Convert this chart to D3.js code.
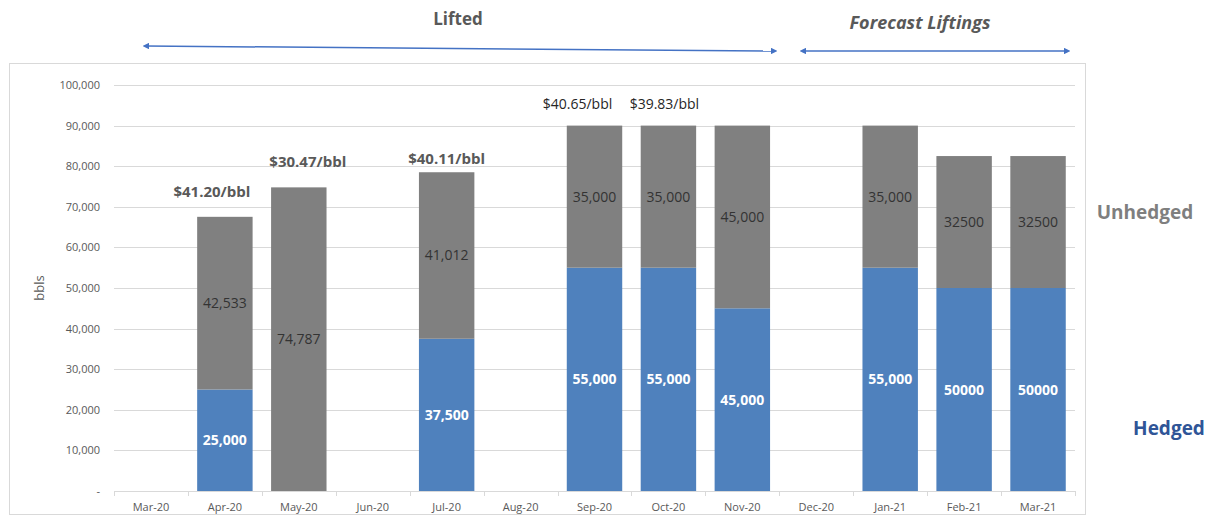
<!DOCTYPE html>
<html>
<head>
<meta charset="utf-8">
<script src="https://cdn.jsdelivr.net/npm/d3@7"></script>
<style>
	body{margin:0;background:#fff;}
	text{font-family:"Open Sans", "Noto Sans", sans-serif;}
</style>
</head>
<body>
<div id="chart"></div>
<script>

// data
const months = ["Mar-20","Apr-20","May-20","Jun-20","Jul-20","Aug-20","Sep-20","Oct-20","Nov-20","Dec-20","Jan-21","Feb-21","Mar-21"];
const hedged = [0, 25000, 0, 0, 37500, 0, 55000, 55000, 45000, 0, 55000, 50000, 50000];
const unhedged = [0, 42533, 74787, 0, 41012, 0, 35000, 35000, 45000, 0, 35000, 32500, 32500];
const hedgedLabels = ["", "25,000", "", "", "37,500", "", "55,000", "55,000", "45,000", "", "55,000", "50000", "50000"];
const unhedgedLabels = ["", "42,533", "74,787", "", "41,012", "", "35,000", "35,000", "45,000", "", "35,000", "32500", "32500"];
const priceMonths = ["Apr-20","May-20","Jul-20","Sep-20","Oct-20"];
const priceLabels = ["$41.20/bbl","$30.47/bbl","$40.11/bbl","$40.65/bbl","$39.83/bbl"];
const yTicks = [0,10000,20000,30000,40000,50000,60000,70000,80000,90000,100000];


function chart(){

	//sizing
	const width = 1215, height = 517;
	let margin = {top:85, right:140, bottom:26, left:114};

	let svg = d3.select("#chart")
		.append("svg")
		.attr("width", width)
		.attr("height", height);

	//chart frame
	svg.append("rect")
		.attr("x", 9.5).attr("y", 63.5)
		.attr("width", 1076).attr("height", 451)
		.attr("fill", "none")
		.attr("stroke", "#d9d9d9");

	let x = d3.scaleBand()
		.domain(months)
		.range([margin.left, width - margin.right])
		.paddingInner(0.25)
		.paddingOuter(0.125);

	let y = d3.scaleLinear()
		.domain([0, 100000])
		.range([height - margin.bottom, margin.top]);

	let fmt = d3.format(",");

	//gridlines
	svg.append("g")
		.selectAll("line")
		.data(yTicks)
		.enter().append("line")
		.attr("x1", margin.left)
		.attr("x2", width - margin.right)
		.attr("y1", d => Math.round(y(d)) + 0.5)
		.attr("y2", d => Math.round(y(d)) + 0.5)
		.attr("stroke", "#d9d9d9");

	//y tick labels
	svg.append("g")
		.selectAll("text")
		.data(yTicks)
		.enter().append("text")
		.attr("x", 100)
		.attr("y", d => y(d) + 4)
		.attr("text-anchor", "end")
		.attr("font-size", 11)
		.attr("fill", "#595959")
		.text(d => d === 0 ? "-" : fmt(d));

	svg.append("text")
		.attr("transform", "translate(44," + y(50000) + ") rotate(-90)")
		.attr("text-anchor", "middle")
		.attr("font-size", 13)
		.attr("fill", "#595959")
		.text("bbls");

	//x ticks between categories
	let x0 = margin.left;
	let cat = (width - margin.right - margin.left) / months.length;
	svg.append("g")
		.selectAll("line")
		.data(d3.range(months.length + 1))
		.enter().append("line")
		.attr("x1", i => Math.round(x0 + i * cat) + 0.5)
		.attr("x2", i => Math.round(x0 + i * cat) + 0.5)
		.attr("y1", y(0))
		.attr("y2", y(0) + 5)
		.attr("stroke", "#d9d9d9");

	svg.append("g")
		.selectAll("text")
		.data(months)
		.enter().append("text")
		.attr("x", d => x(d) + x.bandwidth()/2)
		.attr("y", height - 6)
		.attr("text-anchor", "middle")
		.attr("font-size", 11)
		.attr("fill", "#595959")
		.text(d => d);

	//stacked bars
	let rows = months.map((m, i) => ({month: m, hedged: hedged[i], unhedged: unhedged[i], hl: hedgedLabels[i], ul: unhedgedLabels[i]}));

	let bars = svg.append("g");

	bars.selectAll(".hedged")
		.data(rows.filter(d => d.hedged > 0))
		.enter().append("rect")
		.attr("class", "hedged")
		.attr("x", d => x(d.month))
		.attr("width", x.bandwidth())
		.attr("y", d => y(d.hedged))
		.attr("height", d => y(0) - y(d.hedged))
		.attr("fill", "#4f81bd");

	bars.selectAll(".unhedged")
		.data(rows.filter(d => d.unhedged > 0))
		.enter().append("rect")
		.attr("class", "unhedged")
		.attr("x", d => x(d.month))
		.attr("width", x.bandwidth())
		.attr("y", d => y(d.hedged + d.unhedged))
		.attr("height", d => y(d.hedged) - y(d.hedged + d.unhedged))
		.attr("fill", "#808080");

	//value labels
	bars.selectAll(".hlab")
		.data(rows.filter(d => d.hedged > 0))
		.enter().append("text")
		.attr("x", d => x(d.month) + x.bandwidth()/2)
		.attr("y", d => y(d.hedged/2) + 5)
		.attr("text-anchor", "middle")
		.attr("font-size", 14)
		.attr("font-weight", "bold")
		.attr("fill", "#ffffff")
		.text(d => d.hl);

	bars.selectAll(".ulab")
		.data(rows.filter(d => d.unhedged > 0))
		.enter().append("text")
		.attr("x", d => x(d.month) + x.bandwidth()/2)
		.attr("y", d => y(d.hedged + d.unhedged/2) + 5)
		.attr("text-anchor", "middle")
		.attr("font-size", 14)
		.attr("fill", "#333333")
		.text(d => d.ul);

	//price labels above bars
	let priceStyle = {
		"Apr-20": {dx:-13, dy:-20, bold:true},
		"May-20": {dx:9, dy:-20, bold:true},
		"Jul-20": {dx:0, dy:-8, bold:true},
		"Sep-20": {dx:-17, dy:-17, bold:false},
		"Oct-20": {dx:-4, dy:-17, bold:false}
	};
	priceMonths.forEach((m, i) => {
		let k = months.indexOf(m);
		let s = priceStyle[m];
		svg.append("text")
			.attr("x", x(m) + x.bandwidth()/2 + s.dx)
			.attr("y", y(hedged[k] + unhedged[k]) + s.dy)
			.attr("text-anchor", "middle")
			.attr("font-size", s.bold ? 15 : 14)
			.attr("font-weight", s.bold ? "bold" : "normal")
			.attr("fill", s.bold ? "#595959" : "#262626")
			.text(priceLabels[i]);
	});

	//series labels on the right
	svg.append("text")
		.attr("x", 1145).attr("y", 219)
		.attr("text-anchor", "middle")
		.attr("font-size", 19)
		.attr("font-weight", "bold")
		.attr("fill", "#7f7f7f")
		.text("Unhedged");

	svg.append("text")
		.attr("x", 1169).attr("y", 435)
		.attr("text-anchor", "middle")
		.attr("font-size", 19)
		.attr("font-weight", "bold")
		.attr("fill", "#2f5597")
		.text("Hedged");

	//header arrows
	let defs = svg.append("defs");
	defs.append("marker")
		.attr("id", "arr")
		.attr("viewBox", "0 0 10 10")
		.attr("refX", 5).attr("refY", 5)
		.attr("markerWidth", 4.5).attr("markerHeight", 4.5)
		.attr("orient", "auto-start-reverse")
		.append("path")
		.attr("d", "M0,0 L10,5 L0,10 z")
		.attr("fill", "#4472c4");

	svg.append("line")
		.attr("x1", 146).attr("y1", 46)
		.attr("x2", 774).attr("y2", 51)
		.attr("stroke", "#4472c4")
		.attr("stroke-width", 1.5)
		.attr("marker-start", "url(#arr)")
		.attr("marker-end", "url(#arr)");

	svg.append("line")
		.attr("x1", 803).attr("y1", 51)
		.attr("x2", 1067).attr("y2", 51)
		.attr("stroke", "#4472c4")
		.attr("stroke-width", 1.5)
		.attr("marker-start", "url(#arr)")
		.attr("marker-end", "url(#arr)");

	svg.append("text")
		.attr("x", 458).attr("y", 25)
		.attr("text-anchor", "middle")
		.attr("font-size", 17)
		.attr("font-weight", "bold")
		.attr("fill", "#595959")
		.text("Lifted");

	svg.append("text")
		.attr("x", 920).attr("y", 29)
		.attr("text-anchor", "middle")
		.attr("font-size", 18)
		.attr("font-weight", "bold")
		.attr("font-style", "italic")
		.attr("fill", "#595959")
		.text("Forecast Liftings");

} //function chart

chart();
</script>
</body>
</html>
